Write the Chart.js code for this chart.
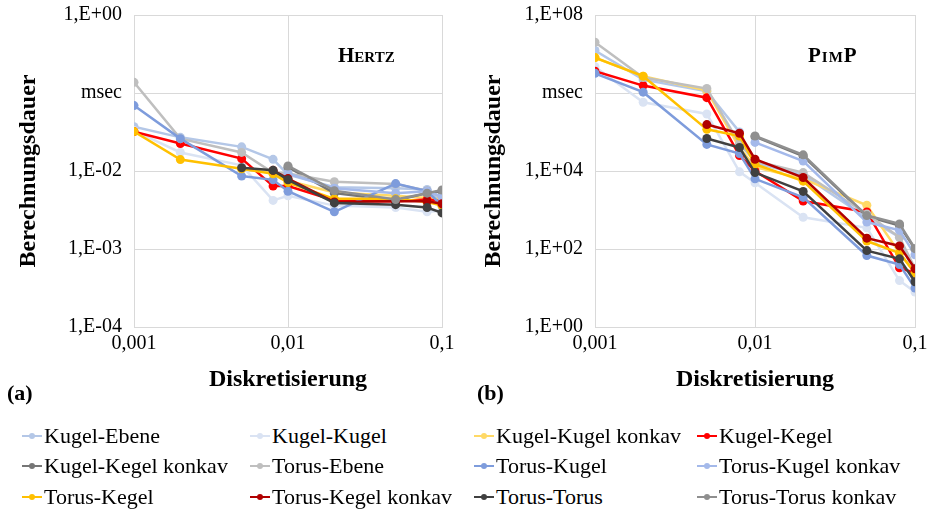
<!DOCTYPE html>
<html>
<head>
<meta charset="utf-8">
<script src="https://cdn.jsdelivr.net/npm/chart.js@4.4.1/dist/chart.umd.min.js"></script>
<style>
	body { margin: 0; background: #fff; font-family: "Liberation Serif", serif; }
	#page { position: relative; width: 934px; height: 515px; overflow: hidden; }
	.panel { position: absolute; top: 0; height: 400px; }
	#hertzBox { left: 0; width: 470px; }
	#pimpBox { left: 465px; width: 469px; }
	.tag { position: absolute; font-weight: bold; font-size: 22px; line-height: 22px; color: #000; }
	.name { position: absolute; font-weight: bold; font-variant: small-caps; font-size: 21px; line-height: 22px; color: #000; }
	.item { position: absolute; font-size: 22px; line-height: 24px; white-space: nowrap; color: #000; }
	.mark { position: absolute; top: 11px; width: 20px; height: 2px; }
	.dot { position: absolute; top: 9px; width: 6px; height: 6px; border-radius: 3px; }
</style>
</head>
<body>
<div id="page">
	<div class="panel" id="hertzBox"><canvas id="hertzChart"></canvas></div>
	<div class="panel" id="pimpBox"><canvas id="pimpChart"></canvas></div>
	<div class="name" style="left:338px; top:44px;">Hertz</div>
	<div class="name" style="left:808px; top:44px; letter-spacing:1px;">PimP</div>
	<div class="tag" style="left:7px; top:382px;">(a)</div>
	<div class="tag" style="left:477px; top:382px;">(b)</div>
	<div id="legend"></div>
</div>
<script>
// Diskretisierung (x) fuer beide Diagramme
var diskret = [0.001, 0.002, 0.005, 0.008, 0.01, 0.02, 0.05, 0.08, 0.1];

var names = ['Kugel-Ebene', 'Kugel-Kugel', 'Kugel-Kugel konkav', 'Kugel-Kegel',
	'Kugel-Kegel konkav', 'Torus-Ebene', 'Torus-Kugel', 'Torus-Kugel konkav',
	'Torus-Kegel', 'Torus-Kegel konkav', 'Torus-Torus', 'Torus-Torus konkav'];

var colors = ['#B4C7E7', '#DAE3F3', '#FFD966', '#FF0000',
	'#767676', '#BFBFBF', '#7E9CDC', '#A4B9EA',
	'#FFC000', '#B00000', '#404040', '#8F8F8F'];

// Berechnungsdauer Hertz
var hertz = [
	[0.037, 0.027, 0.0204, 0.0141, 0.0090, 0.0062, 0.0060, 0.0058, 0.0040],
	[0.033, 0.0173, 0.0118, 0.0042, 0.0048, 0.0036, 0.0034, 0.0030, 0.0031],
	[null, null, 0.0107, 0.0094, 0.0075, 0.0053, 0.0048, 0.0045, 0.0043],
	[0.032, 0.0225, 0.0144, 0.0064, 0.0064, 0.0042, 0.0041, 0.0043, 0.0041],
	[null, null, null, null, 0.0112, 0.0052, 0.0042, 0.0052, 0.0055],
	[0.137, 0.026, 0.0173, 0.0095, 0.0093, 0.0073, 0.0068, 0.0056, 0.0046],
	[0.069, 0.026, 0.0086, 0.0077, 0.0055, 0.0030, 0.0069, 0.0055, 0.0036],
	[null, null, null, null, 0.0093, 0.0060, 0.0052, 0.0055, 0.0047],
	[0.032, 0.014, 0.0107, 0.0092, 0.0071, 0.0044, 0.0044, 0.0040, 0.0036],
	[null, null, null, 0.0102, 0.0080, 0.0040, 0.0041, 0.0041, 0.0038],
	[null, null, 0.011, 0.0102, 0.0077, 0.0039, 0.0037, 0.0034, 0.0029],
	[null, null, null, null, 0.0116, 0.0056, 0.0043, 0.0052, 0.0057]
];

// Berechnungsdauer PIMP
var pimp = [
	[1.23e7, 2.2e6, 1.1e6, 1.0e5, 1.6e4, 7.9e3, 630, 200, 20],
	[4.7e6, 5.8e5, 2.9e5, 9.5e3, 5.0e3, 650, 350, 15.5, 7.9],
	[8.1e6, 2.7e6, 1.15e6, 4.0e4, 1.26e4, 6.3e3, 1320, 79, 25],
	[3.6e6, 1.55e6, 7.6e5, 2.5e4, 1.0e4, 1700, 890, 33, 24],
	[null, null, null, null, 7.6e4, 2.4e4, 690, 400, 100],
	[2.0e7, 2.5e6, 1.3e6, 5.0e4, 1.8e4, 9.1e3, 790, 200, 32],
	[3.2e6, 1.05e6, 4.8e4, 2.8e4, 6.3e3, 2100, 68, 40, 10],
	[null, null, null, null, 5.4e4, 1.8e4, 490, 300, 71],
	[8.1e6, 2.7e6, 1.17e5, 7.9e4, 1.5e4, 5.5e3, 160, 79, 24],
	[null, null, 1.55e5, 9.3e4, 2.0e4, 6.8e3, 190, 120, 31],
	[null, null, 6.8e4, 4.0e4, 9.1e3, 3.0e3, 91, 56, 14.5],
	[null, null, null, null, 7.9e4, 2.6e4, 720, 440, 102]
];

var xTicks = [0.001, 0.01, 0.1];
var xLabels = ['0,001', '0,01', '0,1'];
var hertzTicks = [1e-4, 1e-3, 1e-2, 1e-1, 1];
var hertzLabels = ['1,E-04', '1,E-03', '1,E-02', 'msec', '1,E+00'];
var pimpTicks = [1, 1e2, 1e4, 1e6, 1e8];
var pimpLabels = ['1,E+00', '1,E+02', '1,E+04', 'msec', '1,E+08'];

var tickFont = { family: 'Liberation Serif', size: 20 };
var titleFont = { family: 'Liberation Serif', size: 24, weight: 'bold' };
var gridColor = '#d9d9d9';

function buildSets(values) {
	var sets = [];
	for (var i in values) {
		var pts = [];
		for (var j in diskret) {
			if (values[i][j] !== null) {
				pts.push({ x: diskret[j], y: values[i][j] });
			}
		}
		sets.push({
			label: names[i],
			data: pts,
			borderColor: colors[i],
			backgroundColor: colors[i],
			borderWidth: 2.5,
			pointRadius: 4.5,
			pointBorderWidth: 0,
			pointHoverRadius: 4.5,
			tension: 0,
			order: values.length - i
		});
	}
	return sets;
}

function makeChart(id, values, yTicks, yLabels, axisWidth, padRight) {
	var ctx = document.getElementById(id);
	ctx.width = id == 'hertzChart' ? 470 : 469;
	ctx.height = 400;
	return new Chart(ctx, {
		type: 'line',
		data: { datasets: buildSets(values) },
		options: {
			responsive: false,
			animation: false,
			events: [],
			layout: { autoPadding: false, padding: { top: 15, right: padRight, bottom: 0, left: 0 } },
			plugins: { legend: { display: false }, tooltip: { enabled: false } },
			scales: {
				x: {
					type: 'logarithmic',
					min: 0.001,
					max: 0.1,
					afterBuildTicks: function(scale) {
						scale.ticks = xTicks.map(function(v) { return { value: v, major: true }; });
					},
					afterFit: function(scale) {
						scale.height = 73;
						scale.paddingLeft = 0;
						scale.paddingRight = 0;
					},
					ticks: {
						autoSkip: false,
						maxRotation: 0,
						padding: 5,
						color: '#000',
						font: tickFont,
						callback: function(value, index) { return xLabels[index]; }
					},
					grid: { color: gridColor, drawTicks: false },
					border: { color: gridColor },
					title: { display: true, text: 'Diskretisierung', color: '#000', font: titleFont, padding: { top: 0, bottom: 6 } }
				},
				y: {
					type: 'logarithmic',
					min: yTicks[0],
					max: yTicks[yTicks.length - 1],
					afterBuildTicks: function(scale) {
						scale.ticks = yTicks.map(function(v) { return { value: v, major: true }; });
					},
					afterFit: function(scale) {
						scale.width = axisWidth;
						scale.paddingTop = 0;
						scale.paddingBottom = 0;
					},
					ticks: {
						autoSkip: false,
						padding: 12,
						color: '#000',
						font: tickFont,
						callback: function(value, index) { return yLabels[index]; }
					},
					grid: { color: gridColor, drawTicks: false },
					border: { color: gridColor },
					title: { display: true, text: 'Berechnungsdauer', color: '#000', font: titleFont, padding: { top: 14, bottom: 0 } }
				}
			}
		}
	});
}

makeChart('hertzChart', hertz, hertzTicks, hertzLabels, 134, 28);
makeChart('pimpChart', pimp, pimpTicks, pimpLabels, 130, 19);

// gemeinsame Legende unten, 4 Spalten
var legendCols = [22, 250, 474, 697];
var legendRows = [424, 454, 485];
var legend = document.getElementById('legend');
for (var k in names) {
	var col = k % 4, row = Math.floor(k / 4);
	var item = document.createElement('div');
	item.className = 'item';
	item.style.left = legendCols[col] + 'px';
	item.style.top = legendRows[row] + 'px';
	item.style.paddingLeft = '22px';
	item.innerHTML = '<span class="mark" style="left:0;background:' + colors[k] + '"></span>' +
		'<span class="dot" style="left:7px;background:' + colors[k] + '"></span>' + names[k];
	legend.appendChild(item);
}
</script>
</body>
</html>
